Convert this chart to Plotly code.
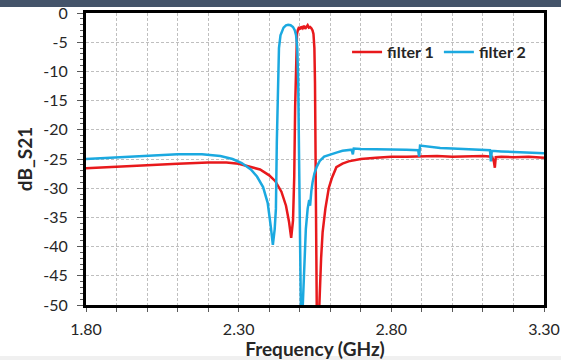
import plotly.graph_objects as go

# filter 1 (red)
freq1 = [1.80, 1.90, 2.00, 2.10, 2.20, 2.26, 2.30, 2.34, 2.37, 2.40, 2.42, 2.44, 2.455, 2.465,
         2.472, 2.478, 2.482, 2.485, 2.488, 2.491, 2.494, 2.498, 2.502, 2.506, 2.510, 2.514,
         2.518, 2.522, 2.526, 2.530, 2.534, 2.538, 2.542, 2.545, 2.548, 2.550, 2.552, 2.554,
         2.556, 2.560, 2.565, 2.570, 2.575, 2.584, 2.595, 2.605, 2.62, 2.64, 2.66, 2.70, 2.75,
         2.80, 2.85, 2.90, 2.95, 3.00, 3.05, 3.10, 3.130, 3.136, 3.139, 3.142, 3.16, 3.20,
         3.25, 3.30]
s21_f1 = [-26.6, -26.3, -26.0, -25.8, -25.6, -25.6, -25.8, -26.3, -26.8, -27.8, -28.8, -30.6,
          -33.0, -35.8, -38.5, -35.5, -28.0, -16.0, -7.0, -3.6, -2.9, -2.4, -2.8, -2.3, -2.6,
          -2.2, -2.7, -2.3, -2.1, -2.5, -2.4, -2.6, -3.0, -3.6, -6.0, -12.0, -22.0, -36.0,
          -52.0, -56.0, -48.0, -42.0, -37.5, -33.5, -30.0, -28.3, -26.4, -25.8, -25.4, -25.0,
          -24.8, -24.6, -24.6, -24.5, -24.5, -24.6, -24.5, -24.5, -24.6, -25.5, -26.5, -24.7,
          -24.6, -24.7, -24.6, -24.8]

# filter 2 (blue)
freq2 = [1.80, 1.90, 2.00, 2.10, 2.18, 2.24, 2.28, 2.31, 2.34, 2.36, 2.38, 2.395, 2.405,
         2.412, 2.418, 2.422, 2.425, 2.428, 2.432, 2.437, 2.447, 2.455, 2.462, 2.470, 2.478,
         2.484, 2.488, 2.492, 2.495, 2.499, 2.502, 2.505, 2.510, 2.515, 2.520, 2.526, 2.531,
         2.534, 2.536, 2.538, 2.542, 2.548, 2.556, 2.566, 2.58, 2.60, 2.62, 2.64, 2.67, 2.674,
         2.677, 2.70, 2.75, 2.80, 2.85, 2.888, 2.891, 2.894, 2.92, 2.96, 3.00, 3.05, 3.10,
         3.123, 3.126, 3.129, 3.16, 3.20, 3.25, 3.30]
s21_f2 = [-25.0, -24.7, -24.4, -24.2, -24.2, -24.5, -25.0, -25.7, -26.8, -28.0, -29.8, -32.5,
          -36.5, -39.7, -37.0, -33.5, -22.0, -12.0, -6.0, -3.8, -2.5, -2.1, -2.0, -2.1, -2.4,
          -3.0, -3.8, -6.0, -12.0, -30.0, -48.0, -56.0, -50.0, -42.0, -37.0, -33.5, -32.0,
          -33.0, -31.0, -30.5, -29.0, -27.5, -26.3, -25.3, -24.6, -24.2, -23.9, -23.6, -23.4,
          -24.2, -23.2, -23.3, -23.3, -23.4, -23.4, -23.5, -24.6, -22.7, -22.9, -23.1, -23.2,
          -23.3, -23.4, -23.5, -25.4, -23.6, -23.7, -23.8, -23.9, -24.0]

x_ticks = [1.80, 2.30, 2.80, 3.30]
y_ticks = [0, -5, -10, -15, -20, -25, -30, -35, -40, -45, -50]

W, H = 561, 360
ML, MR, MT, MB = 86, 17, 13, 55
PW = W - ML - MR
PH = H - MT - MB

fig = go.Figure()
fig.add_trace(go.Scatter(x=freq1, y=s21_f1, mode="lines", name="filter 1",
                         line=dict(color="#E8191C", width=2.5)))
fig.add_trace(go.Scatter(x=freq2, y=s21_f2, mode="lines", name="filter 2",
                         line=dict(color="#1BA9E0", width=2.5)))

font = "Lato, 'Open Sans', sans-serif"
grid_dash = "3px,2px"
fig.update_layout(
    width=W, height=H,
    margin=dict(l=ML, r=MR, t=MT, b=MB, autoexpand=False),
    paper_bgcolor="white", plot_bgcolor="white",
    font=dict(family=font, size=16, color="#262626"),
    legend=dict(orientation="h", x=0.57, y=0.866, xanchor="left", yanchor="middle",
                bgcolor="rgba(0,0,0,0)", font=dict(size=16, color="#262626", weight="bold"),
                itemwidth=30, tracegroupgap=0),
    xaxis=dict(range=[1.8, 3.3], tickvals=x_ticks, ticktext=[f"{v:.2f}" for v in x_ticks],
               showline=True, linecolor="black", linewidth=3, mirror=True,
               ticks="outside", ticklen=4, tickcolor="#595959", tickwidth=1,
               ticklabelstandoff=4,
               showgrid=True, gridcolor="#BFBFBF", griddash=grid_dash, gridwidth=1,
               minor=dict(dtick=0.1, tick0=1.8, ticks="outside", ticklen=4, tickcolor="#595959",
                          showgrid=True, gridcolor="#BFBFBF", griddash=grid_dash, gridwidth=1),
               zeroline=False, automargin=False,
               title=dict(text="Frequency (GHz)", font=dict(size=19, weight="bold"), standoff=2)),
    yaxis=dict(range=[-50, 0], tickvals=y_ticks, ticktext=[str(v) for v in y_ticks],
               showline=True, linecolor="black", linewidth=3, mirror=True,
               ticks="outside", ticklen=6, tickcolor="#595959", tickwidth=1,
               ticklabelstandoff=6,
               showgrid=True, gridcolor="#BFBFBF", griddash=grid_dash, gridwidth=1,
               minor=dict(dtick=1, tick0=0, ticks="outside", ticklen=3, tickcolor="#595959",
                          showgrid=False),
               zeroline=False, automargin=False,
               title=dict(text="dB_S21", font=dict(size=19, weight="bold"), standoff=6)),
    shapes=[
        dict(type="rect", xref="paper", yref="paper", layer="below",
             x0=-ML / PW, x1=1 + MR / PW, y0=1 + (MT - 7) / PH, y1=1 + MT / PH,
             fillcolor="#44546A", line=dict(width=0)),
        dict(type="rect", xref="paper", yref="paper", layer="below",
             x0=-ML / PW, x1=1 + MR / PW, y0=-MB / PH, y1=-(MB - 4) / PH,
             fillcolor="#F0F0F0", line=dict(width=0)),
    ],
)

fig.write_html("out.html", post_script="document.body.style.margin='0';",
               config={"displayModeBar": False})
